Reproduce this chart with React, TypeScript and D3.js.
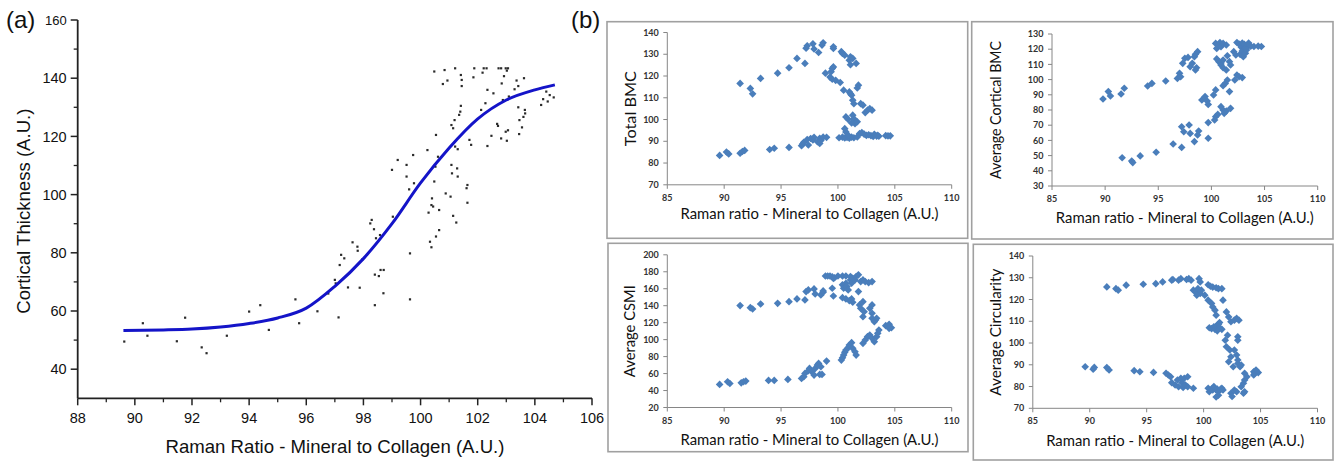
import * as d3 from "d3";

// ---------- (a) Cortical thickness vs Raman ratio ----------
const fitRaman = [89.6, 91, 92, 93, 94, 95, 96, 97, 98, 99, 100, 101, 102, 103, 104, 104.7];
const fitThickness = [53.3, 53.5, 53.8, 54.5, 55.7, 57.6, 61, 68.5, 78, 90, 104, 116, 126, 132.5, 136, 137.7];

const thicknessPoints: [number, number][] = [
  [89.63, 49.5], [90.28, 55.8], [90.44, 51.5], [91.47, 49.6], [91.76, 57.7], [92.34, 47.5], [92.51, 45.5],
  [93.22, 51.5], [94.0, 59.8], [94.39, 62], [94.69, 53.5], [95.62, 64], [95.75, 55.8], [96.39, 59.9],
  [96.77, 66], [97.0, 70.7], [97.03, 69.5], [97.13, 57.8], [97.17, 75.8], [97.22, 79.3], [97.33, 78.1],
  [97.46, 68.1], [97.62, 83.6], [97.79, 82.1], [97.8, 80.7], [97.87, 68], [97.97, 77.8], [98.24, 90.1],
  [98.29, 91.3], [98.37, 88.1], [98.4, 72.5], [98.4, 62], [98.44, 85], [98.54, 72], [98.58, 86.1],
  [98.6, 74.1], [98.71, 74.1], [98.7, 66.1], [99.03, 92.4], [99.0, 108.5], [99.2, 111.9], [99.51, 110.2],
  [99.51, 106.2], [99.6, 101.8], [99.63, 79.8], [99.63, 64], [99.74, 113.6], [99.77, 103.9], [100.24, 115.3],
  [100.28, 93.8], [100.33, 83.8], [100.38, 81.9], [100.38, 96.4], [100.4, 98.7], [100.44, 95.9],
  [100.48, 104.5], [100.52, 109.6], [100.54, 120.5], [100.48, 142.3], [100.54, 85.6], [100.61, 113],
  [100.65, 87.8], [100.65, 94.7], [100.78, 138], [100.84, 142.8], [100.88, 100.4], [100.94, 139.2],
  [101.05, 99.3], [101.08, 123.9], [101.08, 110.2], [101.1, 107.3], [101.14, 92.7], [101.14, 122.8],
  [101.19, 125.6], [101.21, 143.4], [101.21, 116.5], [101.25, 90.4], [101.28, 109], [101.3, 106.2],
  [101.3, 115.6], [101.35, 127.4], [101.39, 128.5], [101.41, 130.5], [101.41, 141.1], [101.44, 139.4],
  [101.44, 137.3], [101.61, 102.2], [101.64, 103.3], [101.64, 97.2], [101.71, 118.8], [101.77, 117.1],
  [101.85, 140.3], [101.88, 143.4], [102.12, 129.1], [102.17, 141.9], [102.21, 143.4], [102.27, 131.4],
  [102.31, 143.4], [102.34, 116.7], [102.34, 136], [102.48, 120.2], [102.55, 134.8], [102.68, 124.3],
  [102.71, 123.6], [102.73, 143.4], [102.82, 143.4], [102.84, 138.2], [102.82, 119.3], [102.88, 132.5],
  [102.92, 140.7], [102.98, 143.4], [102.98, 121.6], [103.02, 142.6], [103.02, 118.5], [103.06, 143.4],
  [103.09, 133.7], [103.06, 122.1], [103.29, 136.2], [103.36, 139.2], [103.42, 137.3], [103.42, 130],
  [103.46, 125.6], [103.45, 120.8], [103.55, 123.1], [103.6, 126.7], [103.62, 140], [103.66, 127.9],
  [103.65, 129.1], [104.22, 130.8], [104.29, 132.8], [104.4, 135.4], [104.45, 132], [104.52, 134.2],
  [104.66, 133.4],
];

// ---------- (b) four Excel scatter plots ----------
const totalBmc: [number, number][] = [
  [89.6, 83.5], [90.2, 85.1], [90.4, 84.2], [91.4, 84.5], [91.6, 85.3], [91.8, 85.8], [91.4, 116.6],
  [92.3, 114.3], [92.5, 111.8], [93.2, 118.9], [94.0, 86.2], [94.4, 86.8], [94.7, 121.3], [95.7, 87.2],
  [95.7, 123.8], [96.4, 128.1], [96.8, 88], [96.9, 88.8], [97.0, 89.5], [97.1, 125.8], [97.2, 132.8],
  [97.3, 133.9], [97.3, 90.8], [97.4, 88.3], [97.6, 91.3], [97.8, 90.6], [97.9, 91.8], [97.8, 134.8],
  [97.9, 132.4], [98.3, 130.8], [98.2, 89.8], [98.4, 91.4], [98.5, 90.4], [98.7, 91.9], [98.4, 89],
  [98.6, 134.2], [98.7, 135.3], [99.0, 91.8], [98.9, 121.3], [99.3, 119.5], [99.4, 122], [99.5, 123.5],
  [99.6, 124.2], [99.5, 118.5], [99.6, 132.7], [99.6, 133.4], [99.8, 118], [100.2, 117], [100.1, 91.6],
  [100.4, 91.9], [100.6, 91.5], [100.8, 91.8], [101.0, 91.4], [101.2, 91.9], [101.4, 91.6], [101.7, 92],
  [100.3, 131.2], [100.4, 130.4], [100.6, 129.6], [100.5, 113.5], [100.6, 95.8], [100.7, 94.3],
  [100.9, 92.8], [100.7, 101.2], [100.9, 100.1], [101.0, 127.3], [101.1, 128.8], [101.0, 112.7],
  [101.2, 111.2], [101.3, 108.9], [101.4, 107.3], [101.1, 111.9], [101.1, 125.2], [101.3, 128.1],
  [101.3, 102], [101.4, 100.4], [101.5, 98.1], [101.2, 98.4], [101.7, 99], [101.6, 125.8], [101.7, 114.5],
  [101.8, 115.8], [101.9, 93.5], [102.1, 94], [102.3, 93.3], [102.5, 92.7], [102.7, 93], [102.9, 92.6],
  [103.1, 92.2], [103.2, 93.2], [103.4, 92.4], [103.5, 92.8], [103.6, 92.3], [102.0, 107.3],
  [102.2, 106.6], [102.4, 103.2], [102.6, 104.3], [102.8, 105], [103.0, 104.3], [104.2, 92.6],
  [104.4, 92.5], [104.6, 92.5],
];

const corticalBmc: [number, number][] = [
  [89.8, 87.2], [90.3, 92.1], [90.5, 89.2], [91.5, 90.5], [91.8, 94.3], [91.6, 48.6], [92.5, 46.4],
  [92.6, 45.4], [93.3, 49.8], [94.0, 95.8], [94.4, 97.5], [94.8, 52.2], [95.7, 99.1], [96.4, 57.6],
  [96.8, 100.8], [97.0, 104.1], [97.1, 101.9], [97.2, 55.4], [97.2, 69], [97.4, 65.7], [97.3, 110.7],
  [97.5, 114], [97.8, 114.6], [98.0, 108.5], [98.2, 110.7], [97.9, 70.1], [98.0, 64.6], [98.4, 115.1],
  [98.5, 116.6], [98.7, 118.4], [98.5, 106.3], [98.6, 107.8], [98.4, 59.2], [98.7, 63.6], [98.8, 66.2],
  [99.1, 86.6], [99.4, 88.8], [99.6, 85.9], [99.7, 83.7], [99.7, 71.7], [99.7, 61.4], [100.2, 89.9],
  [100.4, 93.2], [100.3, 73.4], [100.4, 75.6], [100.6, 77.1], [100.4, 123.8], [100.5, 120.5],
  [100.7, 122.7], [100.8, 124.4], [100.9, 121.6], [101.1, 123.8], [101.4, 122.8], [100.5, 113.6],
  [100.7, 111.8], [100.9, 110.9], [101.1, 112.9], [100.9, 109.6], [101.1, 107.8], [101.4, 106.3],
  [100.9, 82.2], [101.1, 80], [101.2, 77.8], [101.4, 79.3], [101.1, 96], [101.3, 97.5], [101.5, 99.7],
  [101.5, 115.7], [101.7, 111.8], [101.8, 109.6], [101.7, 92.1], [101.8, 81.1], [102.2, 99.7],
  [102.4, 103], [102.6, 101.9], [102.9, 101.3], [102.1, 118.4], [102.3, 116.2], [102.4, 124.4],
  [102.6, 123.4], [102.8, 121.4], [102.9, 124.1], [103.1, 123.2], [103.3, 121], [103.5, 124.1],
  [103.7, 122], [104.0, 121.8], [104.4, 122], [104.7, 121.8], [102.7, 116.6], [102.9, 118.8],
  [103.0, 115.1], [103.2, 117.3], [103.2, 120.6], [103.3, 119.5],
];

const csmi: [number, number][] = [
  [89.6, 47.2], [90.3, 50.3], [90.5, 48.3], [91.5, 49.1], [91.7, 50.3], [91.9, 51.1], [91.4, 140.1],
  [92.3, 137.7], [92.5, 136.1], [93.2, 142], [93.9, 51.9], [94.4, 51.9], [94.7, 142.8], [95.6, 53.1],
  [95.7, 144.8], [96.4, 148], [96.8, 54.3], [97.0, 56.2], [97.1, 60.2], [97.1, 146.8], [97.2, 156.6],
  [97.4, 158.6], [97.4, 63.3], [97.5, 66.1], [97.7, 62.1], [97.9, 58.2], [98.0, 66.1], [97.9, 159.8],
  [98.0, 153.9], [98.2, 70], [98.3, 72], [98.4, 59], [98.6, 59], [98.5, 68], [98.5, 152.7],
  [98.7, 155.8], [98.7, 157.4], [99.0, 74.7], [98.9, 175], [99.1, 175], [99.3, 175], [99.5, 174],
  [99.6, 172], [99.7, 173], [99.5, 160.6], [99.6, 151.5], [100.0, 175], [100.4, 175], [100.7, 175],
  [100.3, 75.9], [100.4, 78.7], [100.5, 81.8], [100.6, 85], [100.7, 87.7], [100.9, 90.5], [101.0, 93.6],
  [101.2, 96.4], [101.3, 89.7], [101.5, 85.7], [101.6, 81.8], [100.4, 164.6], [100.5, 160.6],
  [100.7, 166.5], [100.8, 162.6], [100.9, 158.6], [101.1, 170.4], [101.1, 174.4], [101.2, 166.5],
  [101.3, 172.4], [101.5, 170.4], [101.6, 174.4], [101.8, 176.4], [101.2, 148], [101.3, 144.1],
  [101.0, 146], [100.4, 149.5], [100.7, 148], [101.8, 156.6], [102.0, 168.4], [102.2, 170.4],
  [102.4, 168.4], [102.7, 167.2], [103.0, 168.4], [101.9, 140.9], [102.0, 136.9], [102.2, 127.1],
  [102.3, 133], [102.2, 144.8], [102.2, 95.6], [102.4, 99.5], [102.6, 103.5], [102.8, 105.4],
  [103.0, 101.5], [103.2, 97.6], [102.8, 136.9], [103.0, 131], [103.0, 125.1], [103.2, 121.2],
  [103.3, 123.1], [103.4, 125.1], [103.0, 140.9], [103.4, 103.5], [103.5, 107.4], [103.6, 111.3],
  [104.2, 116.5], [104.4, 115.3], [104.5, 118], [104.7, 114], [104.5, 113.3],
];

const circularity: [number, number][] = [
  [89.6, 89.1], [90.3, 88], [90.4, 88.8], [91.5, 88.7], [91.7, 87.6], [91.5, 125.8], [92.3, 125],
  [92.5, 124.3], [93.2, 126.6], [93.9, 87.3], [94.4, 86.8], [94.7, 127], [95.6, 86.5], [95.8, 127.3],
  [96.4, 128.1], [96.7, 86.1], [96.9, 85.3], [97.1, 84.5], [97.2, 128.9], [97.3, 129.2], [97.2, 81.8],
  [97.5, 80.7], [97.7, 83], [97.8, 79.9], [98.0, 83.8], [98.1, 81.8], [97.8, 128.9], [98.0, 129.6],
  [98.3, 83.8], [98.6, 84.5], [98.2, 79.6], [98.4, 80.7], [98.6, 79.9], [98.5, 129.2], [98.7, 129.6],
  [98.9, 128.9], [99.1, 79.2], [99.1, 124.3], [99.3, 123.5], [99.5, 125], [99.7, 122.8], [99.8, 124.3],
  [99.4, 122], [99.6, 129.6], [99.7, 128.1], [100.1, 122], [100.4, 119.7], [100.4, 79.2], [100.5, 77.6],
  [100.7, 78.8], [100.8, 78.4], [100.9, 80], [101.1, 78.4], [101.2, 78.8], [101.3, 77.6], [101.5, 78.8],
  [101.6, 79.2], [101.7, 78.4], [101.3, 76], [101.1, 75.2], [100.4, 126.8], [100.6, 126.1],
  [100.8, 125.7], [101.1, 125.4], [101.3, 125], [101.6, 125], [100.7, 118.2], [100.8, 116.6],
  [101.0, 115.1], [101.1, 112.8], [100.5, 107], [100.7, 106.6], [100.9, 107.5], [101.0, 106.3],
  [101.1, 107.8], [101.3, 108.6], [101.4, 107], [101.6, 106.3], [101.4, 109.4], [101.2, 105.6],
  [101.7, 119.7], [101.9, 101.3], [102.1, 103.6], [102.0, 98.3], [102.3, 96.8], [102.2, 91.4],
  [102.6, 89.1], [102.4, 93.7], [102.0, 114.3], [102.2, 112], [102.4, 109.8], [102.7, 110.5],
  [102.9, 111.3], [103.1, 110.5], [102.4, 76.9], [102.5, 75.4], [102.7, 78.4], [102.9, 77.6],
  [102.7, 96.8], [102.9, 94.5], [103.0, 92.2], [103.0, 102.9], [103.0, 101.3], [103.0, 90.6],
  [103.2, 89.1], [103.3, 89.9], [103.3, 79.9], [103.5, 81.5], [103.6, 83], [103.6, 77.6], [103.5, 76.9],
  [103.6, 86.1], [103.8, 84.5], [104.4, 86.8], [104.5, 86.1], [104.6, 87.6], [104.8, 86.4], [104.4, 85.3],
];

const A_FONT = "'Liberation Sans', Arial, sans-serif";
const B_FONT = "Lato, 'Liberation Sans', sans-serif";
const DIAMOND = "#4a7ebb";

const PanelA = () => {
  const x = d3.scaleLinear().domain([88, 106]).range([77.7, 592]);
  const y = d3.scaleLinear().domain([30, 160]).range([398.3, 20]);
  const line = d3
    .line<number>()
    .x((_, i) => x(fitRaman[i]))
    .y((d) => y(d))
    .curve(d3.curveMonotoneX);

  const xMajor = d3.range(88, 107, 2);
  const xMinor = d3.range(89, 106, 2);
  const yMajor = d3.range(40, 161, 20);
  const yMinor = d3.range(50, 160, 20);

  return (
    <g fontFamily={A_FONT} fill="#111">
      {thicknessPoints.map(([a, b], i) => (
        <rect key={i} x={x(a) - 1.1} y={y(b) - 1.1} width={2.2} height={2.2} fill="#2a2a2a" />
      ))}
      <path d={line(fitThickness) ?? ""} fill="none" stroke="#1414c8" strokeWidth={3} />

      <line x1={x(88)} x2={x(88)} y1={y(30)} y2={y(160)} stroke="#222" strokeWidth={1.8} />
      <line x1={x(88)} x2={x(106)} y1={y(30)} y2={y(30)} stroke="#222" strokeWidth={1.8} />
      {yMajor.map((t) => (
        <g key={"ym" + t}>
          <line x1={x(88) - 7} x2={x(88)} y1={y(t)} y2={y(t)} stroke="#222" strokeWidth={1.5} />
          <text x={x(88) - 11} y={y(t)} dy="0.36em" textAnchor="end" fontSize={t === 160 ? 13 : 14.5}>
            {t}
          </text>
        </g>
      ))}
      {yMinor.map((t) => (
        <line key={"yn" + t} x1={x(88) - 4} x2={x(88)} y1={y(t)} y2={y(t)} stroke="#222" strokeWidth={1.3} />
      ))}
      {xMajor.map((t) => (
        <g key={"xm" + t}>
          <line x1={x(t)} x2={x(t)} y1={y(30)} y2={y(30) + 7} stroke="#222" strokeWidth={1.5} />
          <text x={x(t)} y={y(30) + 25} textAnchor="middle" fontSize={14.5}>
            {t}
          </text>
        </g>
      ))}
      {xMinor.map((t) => (
        <line key={"xn" + t} x1={x(t)} x2={x(t)} y1={y(30)} y2={y(30) + 4} stroke="#222" strokeWidth={1.3} />
      ))}

      <text x={335} y={453} textAnchor="middle" fontSize={18.6}>
        Raman Ratio - Mineral to Collagen (A.U.)
      </text>
      <text transform={`translate(29.5, ${y(95) + 2}) rotate(-90)`} textAnchor="middle" fontSize={18.6}>
        Cortical Thickness (A.U.)
      </text>
      <text x={6} y={28} fontSize={24}>
        (a)
      </text>
    </g>
  );
};

type SubProps = {
  box: [number, number, number, number];
  xPix: [number, number];
  yDomain: [number, number];
  yPix: [number, number];
  yStep: number;
  points: [number, number][];
  yTitle: string;
  yTitleLen: number;
  yTitleX: number;
  xTitleY: number;
};

const Subplot = ({ box, xPix, yDomain, yPix, yStep, points, yTitle, yTitleLen, yTitleX, xTitleY }: SubProps) => {
  const x = d3.scaleLinear().domain([85, 110]).range(xPix);
  const y = d3.scaleLinear().domain(yDomain).range(yPix);
  const xTicks = d3.range(85, 111, 5);
  const yTicks = d3.range(yDomain[0], yDomain[1] + 0.1, yStep);
  const x0 = xPix[0];
  const y0 = yPix[0];

  return (
    <g fontFamily={B_FONT}>
      <rect
        x={box[0]}
        y={box[1]}
        width={box[2] - box[0]}
        height={box[3] - box[1]}
        fill="white"
        stroke="#a0a0a0"
        strokeWidth={1.6}
      />
      <line x1={x0} x2={x0} y1={y0} y2={yPix[1]} stroke="#868686" />
      <line x1={x0} x2={xPix[1]} y1={y0} y2={y0} stroke="#868686" />
      {yTicks.map((t) => (
        <g key={"y" + t}>
          <line x1={x0 - 4} x2={x0} y1={y(t)} y2={y(t)} stroke="#868686" />
          <text x={x0 - 8.5} y={y(t)} dy="0.35em" textAnchor="end" fontSize={9} fontWeight={700} fill="#333">
            {t}
          </text>
        </g>
      ))}
      {xTicks.map((t) => (
        <g key={"x" + t}>
          <line x1={x(t)} x2={x(t)} y1={y0} y2={y0 + 4} stroke="#868686" />
          <text x={x(t)} y={y0 + 16} textAnchor="middle" fontSize={9} fontWeight={700} fill="#333">
            {t}
          </text>
        </g>
      ))}
      {points.map(([a, b], i) => (
        <rect
          key={i}
          x={-2.7}
          y={-2.7}
          width={5.4}
          height={5.4}
          fill={DIAMOND}
          transform={`translate(${x(a)},${y(b)}) rotate(45)`}
        />
      ))}
      <text
        x={(xPix[0] + xPix[1]) / 2}
        y={xTitleY}
        textAnchor="middle"
        fontSize={16}
        fill="#111"
        textLength={258}
        lengthAdjust="spacingAndGlyphs"
      >
        Raman ratio - Mineral to Collagen (A.U.)
      </text>
      <text
        transform={`translate(${yTitleX}, ${(yPix[0] + yPix[1]) / 2}) rotate(-90)`}
        textAnchor="middle"
        fontSize={15.5}
        fill="#111"
        textLength={yTitleLen}
        lengthAdjust="spacingAndGlyphs"
      >
        {yTitle}
      </text>
    </g>
  );
};

export default function App() {
  return (
    <svg
      width={1334}
      height={462}
      style={{ position: "absolute", left: 0, top: 0, background: "white" }}
    >
      <PanelA />
      <text x={571} y={28} fontSize={24} fontFamily={A_FONT} fill="#111">
        (b)
      </text>
      <Subplot
        box={[607, 21.7, 967.7, 238.3]}
        xPix={[667.3, 951.7]}
        yDomain={[70, 140]}
        yPix={[184.8, 32.5]}
        yStep={10}
        points={totalBmc}
        yTitle="Total BMC"
        yTitleLen={75}
        yTitleX={635.5}
        xTitleY={219}
      />
      <Subplot
        box={[971.7, 21.7, 1333, 239]}
        xPix={[1052, 1317.7]}
        yDomain={[30, 130]}
        yPix={[186, 34]}
        yStep={10}
        points={corticalBmc}
        yTitle="Average Cortical BMC"
        yTitleLen={138}
        yTitleX={1001}
        xTitleY={223}
      />
      <Subplot
        box={[608, 243.3, 968, 451.7]}
        xPix={[667.3, 951.7]}
        yDomain={[20, 200]}
        yPix={[407.5, 254.8]}
        yStep={20}
        points={csmi}
        yTitle="Average CSMI"
        yTitleLen={92}
        yTitleX={634.5}
        xTitleY={445}
      />
      <Subplot
        box={[973.3, 244.3, 1333, 460]}
        xPix={[1032.8, 1317.5]}
        yDomain={[70, 140]}
        yPix={[408.3, 256]}
        yStep={10}
        points={circularity}
        yTitle="Average Circularity"
        yTitleLen={127}
        yTitleX={1001}
        xTitleY={446}
      />
    </svg>
  );
}
